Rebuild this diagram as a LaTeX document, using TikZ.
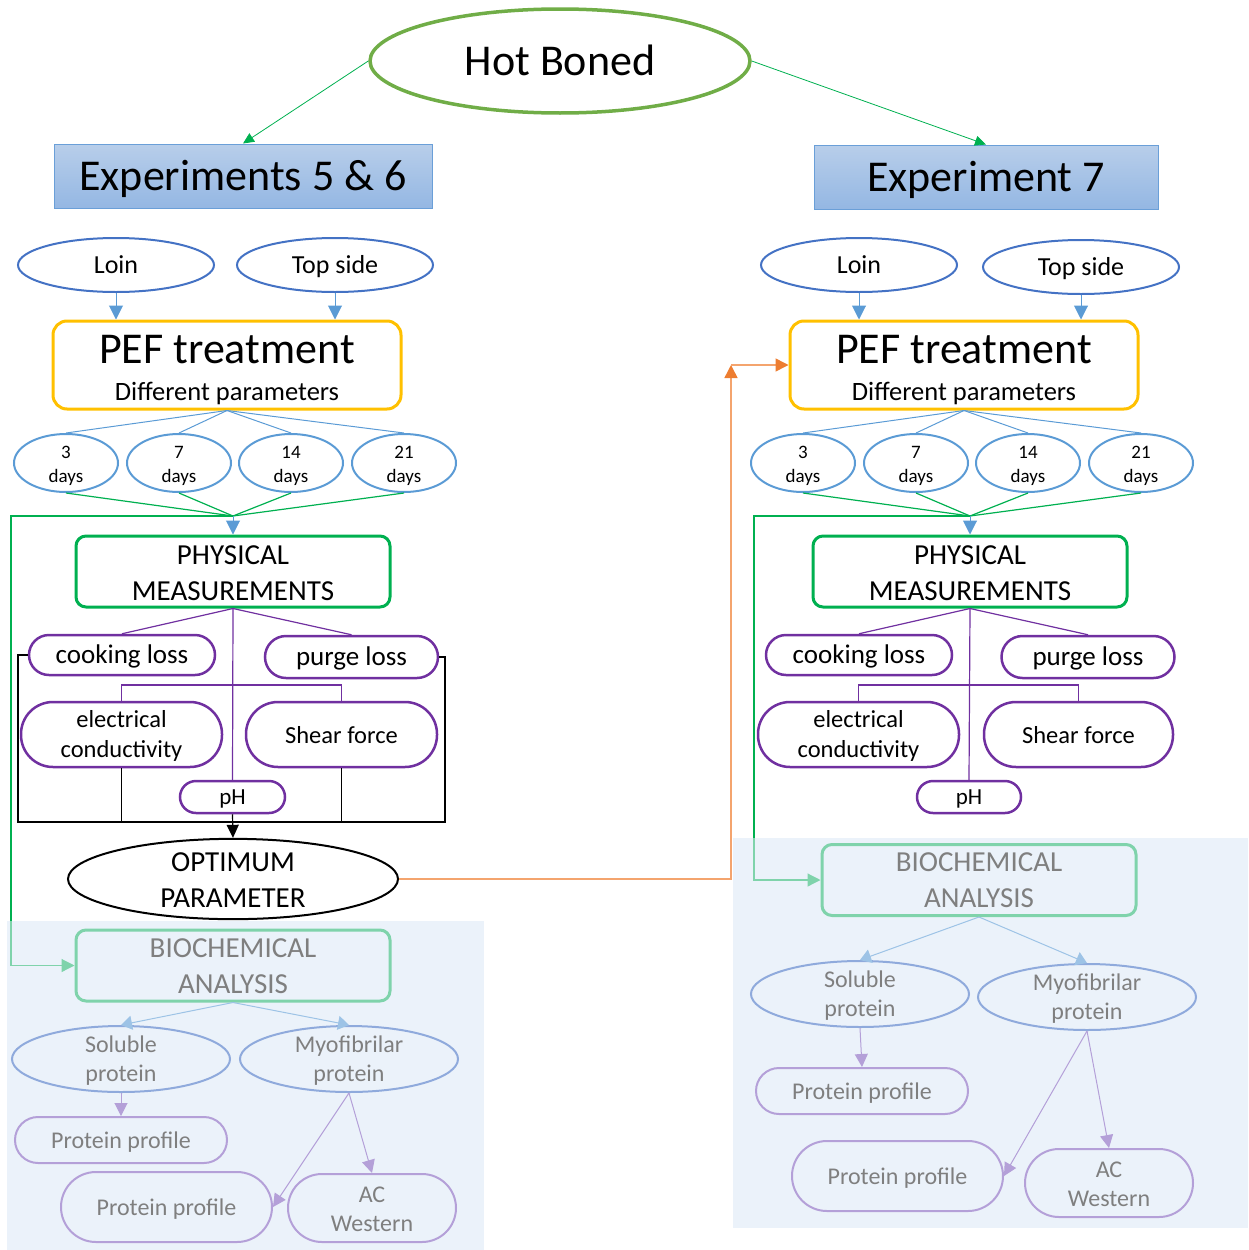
\documentclass[tikz,border=0pt]{standalone}
\usepackage{fontspec}
\setmainfont{Carlito}
\usetikzlibrary{shapes.geometric,arrows.meta}
\definecolor{hotg}{HTML}{70AD47}
\definecolor{arrg}{HTML}{00B050}
\definecolor{expT}{HTML}{B8CEEA}
\definecolor{expB}{HTML}{94B7E3}
\definecolor{expD}{HTML}{6A9FD8}
\definecolor{loinC}{HTML}{4472C4}
\definecolor{dayC}{HTML}{5B9BD5}
\definecolor{pefC}{HTML}{FFC000}
\definecolor{purp}{HTML}{7030A0}
\definecolor{mint}{HTML}{7FD3AB}
\definecolor{solC}{HTML}{8FAADC}
\definecolor{lpur}{HTML}{B4A0D8}
\definecolor{lblu}{HTML}{9DC3E6}
\definecolor{bgc}{HTML}{EBF2FA}
\definecolor{oraD}{HTML}{ED7D31}
\definecolor{oraL}{HTML}{F4A46E}
\definecolor{grayT}{HTML}{7F7F7F}
\newcommand\fsz[2]{\fontsize{#1}{#2}\selectfont}
\begin{document}
\begin{tikzpicture}[x=1pt,y=-1pt,
  tip/.style={-{Triangle[length=12pt,width=12pt]}},
  th/.style={text height=#1, text depth=0pt},
  ell/.style={ellipse, draw, inner sep=0pt, align=center},
  rbox/.style={rectangle, draw, rounded corners=#1, inner sep=0pt, align=center},
  hot/.style={ell, draw=hotg, line width=3.5pt, fill=white, minimum width=380pt, minimum height=104pt, font=\fsz{44}{50}, th=28.3pt},
  expbox/.style={rectangle, draw=expD, line width=1pt, top color=expT, bottom color=expB, minimum height=64pt, inner sep=0pt, font=\fsz{44}{50}, th=28.3pt},
  cut/.style={ell, draw=loinC, line width=2pt, minimum width=196pt, minimum height=54pt, font=\fsz{26}{30}, th=17pt},
  pef/.style={rbox=14pt, draw=pefC, line width=3pt, minimum width=348pt, minimum height=88pt},
  day/.style={ell, draw=dayC, line width=2pt, minimum width=104pt, minimum height=58pt, font=\fsz{19}{23.5}, th=38.6pt},
  pm/.style={rbox=10pt, draw=arrg, line width=3pt, minimum width=314pt, minimum height=71pt, font=\fsz{29}{36}, th=57.6pt},
  meas/.style={rbox=#1, draw=purp, line width=2.5pt},
  opt/.style={ell, draw=black, line width=2pt, minimum width=330pt, minimum height=70pt, font=\fsz{29}{36}, th=56.8pt},
  bio/.style={rbox=10pt, draw=mint, line width=3pt, minimum width=314pt, minimum height=71pt, text=grayT, font=\fsz{29}{36}, th=55.6pt},
  prot/.style={ell, draw=solC, line width=2pt, minimum width=218pt, minimum height=66pt, text=grayT, font=\fsz{24}{29}, th=45.8pt},
  prof/.style={rbox=#1, draw=lpur, line width=2pt, text=grayT, font=\fsz{24}{29}},
  garrow/.style={draw=arrg, line width=0.8pt, -{Triangle[length=11pt,width=10pt]}},
  barrow/.style={draw=dayC, line width=1pt, -{Triangle[length=14pt,width=14pt]}},
  bline/.style={draw=dayC, line width=1pt},
  gline/.style={draw=arrg, line width=1.2pt},
  marrow/.style={draw=mint, line width=1.2pt, -{Triangle[length=13pt,width=13pt]}},
  pline/.style={draw=purp, line width=1.2pt},
  kline/.style={draw=black, line width=1.2pt},
  karrow/.style={draw=black, line width=1.2pt, -{Triangle[length=13pt,width=12pt]}},
  lbarrow/.style={draw=lblu, line width=1pt, -{Triangle[length=11pt,width=14pt]}},
  lparrow/.style={draw=lpur, line width=1pt, -{Triangle[length=13pt,width=13pt]}},
  oline/.style={draw=oraL, line width=1.5pt, -{Triangle[length=13pt,width=13pt,color=oraD]}}
]
\useasboundingbox (0,0) rectangle (1249,1250);
% backgrounds
\fill[bgc] (7,921) rectangle (484,1250);
\fill[bgc] (733,838) rectangle (1248,1228);

% top
\node[hot] (hot) at (560,61) {Hot Boned};
\node[expbox, minimum width=378pt] (exL) at (243,176) {Experiments 5 \& 6};
\node[expbox, minimum width=344pt] (exR) at (986,177) {Experiment 7};
\draw[garrow] (hot.west) -- (exL.north);
\draw[garrow] (hot.east) -- (exR.north);

% ===== LEFT COLUMN =====
\node[cut] (loinL) at (116,265) {Loin};
\node[cut] (topL) at (335,265) {Top side};
\node[pef] (pefL) at (227,365) {};
\node[th=27.3pt] (pefLt) at (227,349.7) {\fsz{44}{50}PEF treatment};
\node[th=16.7pt] (pefLs) at (227,392.3) {\fsz{26.5}{30}Different parameters};
\draw[barrow] (loinL.south) -- (loinL.south |- pefL.north);
\draw[barrow] (topL.south) -- (topL.south |- pefL.north);
\node[day] (aL) at (66,463) {3\\days};
\node[day] (bL) at (179,463) {7\\days};
\node[day] (cL) at (291,463) {14\\days};
\node[day] (dL) at (404,463) {21\\days};
\foreach \n in {aL,bL,cL,dL} \draw[bline] (pefL.south) -- (\n.north);
\coordinate (jL) at (233,516);
\foreach \n in {aL,bL,cL,dL} \draw[gline] (\n.south) -- (jL);
\node[pm] (pmL) at (233,571.5) {PHYSICAL\\MEASUREMENTS};
\draw[barrow] (jL) -- (pmL.north);
\node[meas=20pt, minimum width=186pt, minimum height=40pt, font=\fsz{27}{30}, th=16.8pt] (ckL) at (122,655) {cooking loss};
\node[meas=21pt, minimum width=173pt, minimum height=42pt, font=\fsz{27}{30}, th=17.5pt] (pgL) at (351.5,657) {purge loss};
\node[meas=32pt, minimum width=201pt, minimum height=65pt, font=\fsz{24.5}{30}, th=46pt] (ecL) at (121.5,734.5) {electrical\\conductivity};
\node[meas=32pt, minimum width=191pt, minimum height=65pt, font=\fsz{24.5}{30}, th=17.5pt] (sfL) at (341.5,734.5) {Shear force};
\node[meas=16pt, minimum width=105pt, minimum height=32pt, font=\fsz{23}{30}, th=15.5pt] (phL) at (232.5,797) {pH};
\draw[pline] (pmL.south) -- (ckL.north);
\draw[pline] (pmL.south) -- (pgL.north);
\draw[pline] (pmL.south) -- (phL.north);
\coordinate (hL) at (233,685);
\draw[pline] (ecL.north) -- (ecL.north |- hL) -- (sfL.north |- hL) -- (sfL.north);
\coordinate (blL) at (18,822);
\coordinate (brL) at (445,822);
\draw[kline] (ckL.west) -| (blL) -- (brL) |- (pgL.east);
\draw[kline] (ecL.south) -- (ecL.south |- blL);
\draw[kline] (sfL.south) -- (sfL.south |- blL);
\node[opt] (optL) at (233,879) {OPTIMUM\\PARAMETER};
\draw[karrow] (phL.south) -- (optL.north);
\node[bio] (bioL) at (233,965.5) {BIOCHEMICAL\\ANALYSIS};
\coordinate (fL) at (11,516);
\coordinate (fL2) at (11,921);
\draw[gline] (jL) -- (fL) -- (fL2);
\draw[marrow] (fL2) |- (bioL.west);
\node[prot] (solL) at (121,1059) {Soluble\\protein};
\node[prot] (myoL) at (349,1059) {Myofibrilar\\protein};
\draw[lbarrow] (bioL.south) -- (solL.north);
\draw[lbarrow] (bioL.south) -- (myoL.north);
\node[prof=23pt, minimum width=212pt, minimum height=46pt, th=17.6pt] (pp1L) at (121,1140) {Protein profile};
\node[prof=35pt, minimum width=211pt, minimum height=70pt, th=17.6pt] (pp2L) at (166.5,1207) {Protein profile};
\node[prof=34pt, minimum width=168pt, minimum height=68pt, th=46.4pt] (acL) at (372,1208) {AC\\Western};
\draw[lparrow] (solL.south) -- (pp1L.north);
\draw[lparrow] (myoL.south) -- (pp2L.east);
\draw[lparrow] (myoL.south) -- (acL.north);

% ===== RIGHT COLUMN =====
\node[cut] (loinR) at (859,265) {Loin};
\node[cut] (topR) at (1081,267) {Top side};
\node[pef] (pefR) at (964,365) {};
\node[th=27.3pt] (pefRt) at (964,349.7) {\fsz{44}{50}PEF treatment};
\node[th=16.7pt] (pefRs) at (964,392.3) {\fsz{26.5}{30}Different parameters};
\draw[barrow] (loinR.south) -- (loinR.south |- pefR.north);
\draw[barrow] (topR.south) -- (topR.south |- pefR.north);
\node[day] (aR) at (803,463) {3\\days};
\node[day] (bR) at (916,463) {7\\days};
\node[day] (cR) at (1028,463) {14\\days};
\node[day] (dR) at (1141,463) {21\\days};
\foreach \n in {aR,bR,cR,dR} \draw[bline] (pefR.south) -- (\n.north);
\coordinate (jR) at (970,516);
\foreach \n in {aR,bR,cR,dR} \draw[gline] (\n.south) -- (jR);
\node[pm] (pmR) at (970,571.5) {PHYSICAL\\MEASUREMENTS};
\draw[barrow] (jR) -- (pmR.north);
\node[meas=20pt, minimum width=186pt, minimum height=40pt, font=\fsz{27}{30}, th=16.8pt] (ckR) at (859,655) {cooking loss};
\node[meas=21pt, minimum width=173pt, minimum height=42pt, font=\fsz{27}{30}, th=17.5pt] (pgR) at (1088,657) {purge loss};
\node[meas=32pt, minimum width=201pt, minimum height=65pt, font=\fsz{24.5}{30}, th=46pt] (ecR) at (858.5,734.5) {electrical\\conductivity};
\node[meas=32pt, minimum width=189pt, minimum height=65pt, font=\fsz{24.5}{30}, th=17.5pt] (sfR) at (1078.5,734.5) {Shear force};
\node[meas=16pt, minimum width=104pt, minimum height=32pt, font=\fsz{23}{30}, th=15.5pt] (phR) at (969,797) {pH};
\draw[pline] (pmR.south) -- (ckR.north);
\draw[pline] (pmR.south) -- (pgR.north);
\draw[pline] (pmR.south) -- (phR.north);
\coordinate (hR) at (970,685);
\draw[pline] (ecR.north) -- (ecR.north |- hR) -- (sfR.north |- hR) -- (sfR.north);
\node[bio] (bioR) at (979,880) {BIOCHEMICAL\\ANALYSIS};
\coordinate (fR) at (754,516);
\coordinate (fR2) at (754,838);
\draw[gline] (jR) -- (fR) -- (fR2);
\draw[marrow] (fR2) |- (bioR.west);
\node[prot] (solR) at (860,994) {Soluble\\protein};
\node[prot] (myoR) at (1087,997) {Myofibrilar\\protein};
\draw[lbarrow] (bioR.south) -- (solR.north);
\draw[lbarrow] (bioR.south) -- (myoR.north);
\node[prof=23pt, minimum width=212pt, minimum height=46pt, th=17.6pt] (pp1R) at (862,1091) {Protein profile};
\node[prof=35pt, minimum width=211pt, minimum height=70pt, th=17.6pt] (pp2R) at (897.5,1176) {Protein profile};
\node[prof=34pt, minimum width=168pt, minimum height=68pt, th=46.4pt] (acR) at (1109,1183) {AC\\Western};
\draw[lparrow] (solR.south) -- (pp1R.north);
\draw[lparrow] (myoR.south) -- (pp2R.east);
\draw[lparrow] (myoR.south) -- (acR.north);

% orange feedback
\coordinate (oc) at (731,365);
\draw[oline] (optL.east) -| (oc);
\draw[oline] (oc) -- (pefR.west);
\end{tikzpicture}
\end{document}
